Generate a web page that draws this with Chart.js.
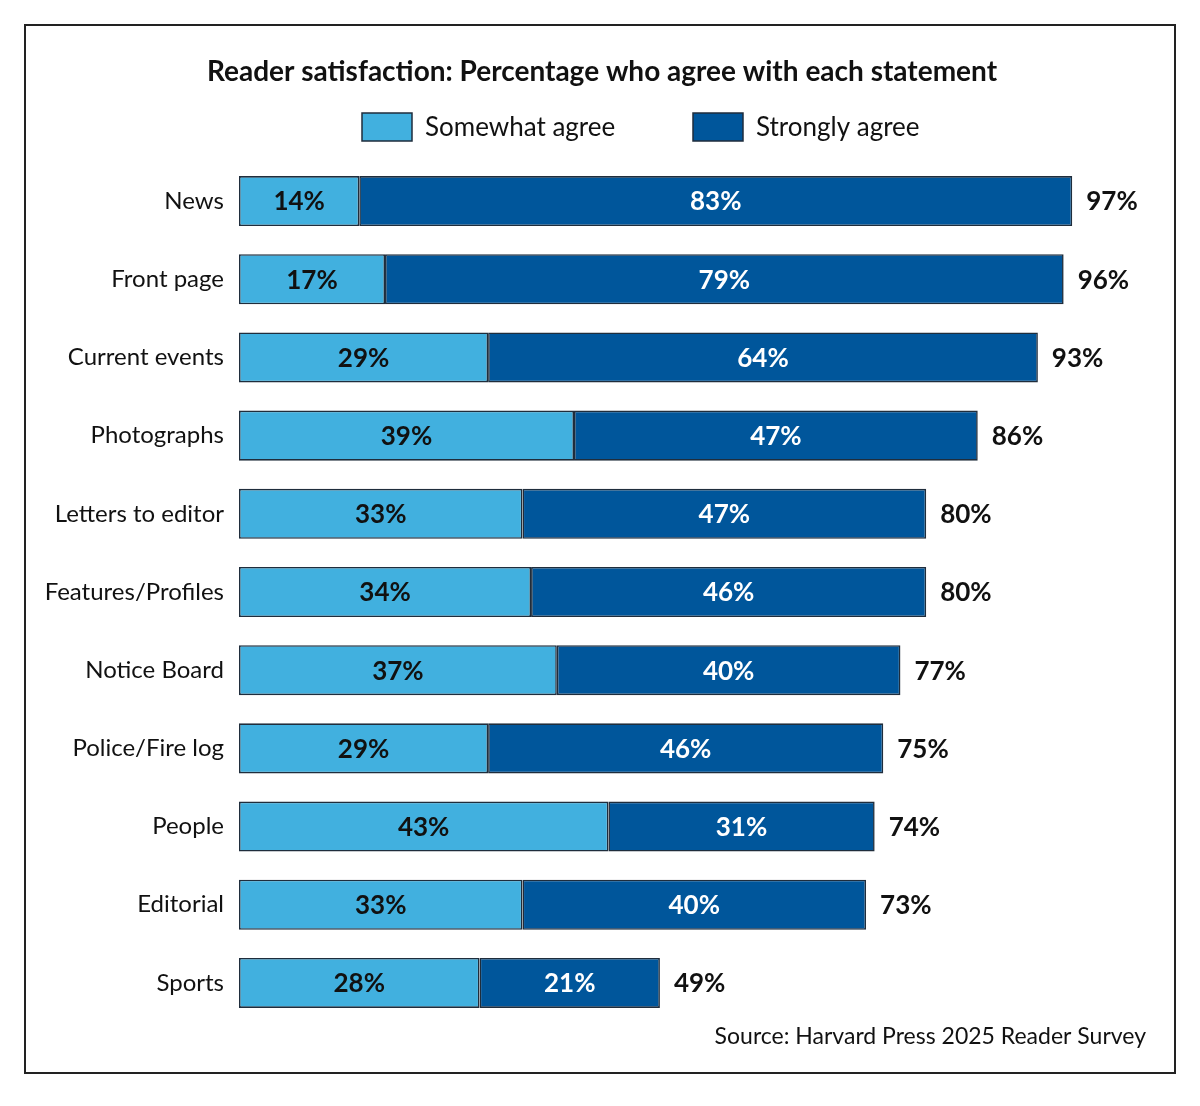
<!DOCTYPE html>
<html>
<head>
<meta charset="utf-8">
<script src="https://cdn.jsdelivr.net/npm/chart.js@4.4.1/dist/chart.umd.min.js"></script>
<style>
  html, body { margin: 0; padding: 0; background: #fff; }
  #wrap { width: 1200px; height: 1106px; }
</style>
</head>
<body>
<div id="wrap"><canvas id="myChart" width="1200" height="1106"></canvas></div>
<script>
// datos del grafico
var categorias = ['News', 'Front page', 'Current events', 'Photographs', 'Letters to editor',
    'Features/Profiles', 'Notice Board', 'Police/Fire log', 'People', 'Editorial', 'Sports'];
var algo = [14, 17, 29, 39, 33, 34, 37, 29, 43, 33, 28];
var mucho = [83, 79, 64, 47, 47, 46, 40, 46, 31, 40, 21];
var totales = [97, 96, 93, 86, 80, 80, 77, 75, 74, 73, 49];
var series = ['Somewhat agree', 'Strongly agree'];
var titulo = 'Reader satisfaction: Percentage who agree with each statement';
var fuente = 'Source: Harvard Press 2025 Reader Survey';

var FUENTE = 'Lato, "Open Sans", sans-serif';
var claro = '#41b0df';
var oscuro = '#00569b';
var borde = '#1f2d3c';

// etiquetas, titulo, leyenda y marco
var extras = {
    id: 'extras',
    afterDatasetsDraw: function(chart){
        var ctx = chart.ctx;
        ctx.save();
        ctx.textBaseline = 'middle';
        ctx.font = 'bold 26px ' + FUENTE;
        ctx.textAlign = 'center';
        chart.data.datasets.forEach(function(ds, i){
            var meta = chart.getDatasetMeta(i);
            meta.data.forEach(function(bar, j){
                ctx.fillStyle = i == 0 ? '#111' : '#fff';
                var x = (bar.x + bar.base) / 2;
                ctx.fillText(ds.data[j] + '%', x, bar.y + 1);
            });
        });
        // totales
        var meta2 = chart.getDatasetMeta(1);
        ctx.textAlign = 'left';
        ctx.fillStyle = '#111';
        meta2.data.forEach(function(bar, j){
            ctx.fillText(totales[j] + '%', bar.x + 14, bar.y + 1);
        });
        ctx.restore();
    },
    afterDraw: function(chart){
        var ctx = chart.ctx;
        ctx.save();
        // marco
        ctx.strokeStyle = '#222';
        ctx.lineWidth = 2;
        ctx.strokeRect(25, 25, 1150, 1048);
        // titulo
        ctx.fillStyle = '#111';
        ctx.textAlign = 'center';
        ctx.textBaseline = 'middle';
        ctx.font = 'bold 28px ' + FUENTE;
        ctx.fillText(titulo, 602, 72);
        // leyenda
        var xs = [362, 693];
        ctx.font = '26px ' + FUENTE;
        ctx.textAlign = 'left';
        chart.data.datasets.forEach(function(ds, i){
            ctx.fillStyle = ds.backgroundColor;
            ctx.fillRect(xs[i], 113, 50, 28);
            ctx.strokeStyle = borde;
            ctx.lineWidth = 1.5;
            ctx.strokeRect(xs[i], 113, 50, 28);
            ctx.fillStyle = '#111';
            ctx.fillText(ds.label, xs[i] + 63, 128);
        });
        // fuente
        ctx.textAlign = 'right';
        ctx.font = '23px ' + FUENTE;
        ctx.fillText(fuente, 1146, 1037);
        ctx.restore();
    }
};

var datosChart = {
    labels: categorias,
    datasets: [{
        label: series[0],
        backgroundColor: claro,
        borderColor: borde,
        borderWidth: 1.6,
        borderSkipped: false,
        data: algo
    }, {
        label: series[1],
        backgroundColor: oscuro,
        borderColor: borde,
        borderWidth: 1.6,
        borderSkipped: false,
        data: mucho
    }]
};

var charGrafico = new Chart(document.getElementById('myChart'), {
    type: 'bar',
    data: datosChart,
    plugins: [extras],
    options: {
        indexAxis: 'y',
        responsive: false,
        animation: false,
        layout: { padding: { top: 162, left: 0, right: 102, bottom: 84 } },
        datasets: { bar: { barPercentage: 0.64, categoryPercentage: 1 } },
        scales: {
            x: { stacked: true, min: 0, max: 100, display: false },
            y: {
                stacked: true,
                grid: { display: false },
                border: { display: false },
                afterFit: function(scale){ scale.width = 239; },
                ticks: {
                    color: '#111',
                    padding: 7,
                    font: { family: FUENTE, size: 24 }
                }
            }
        },
        plugins: {
            legend: { display: false },
            title: { display: false },
            tooltip: { enabled: false }
        }
    }
});
</script>
</body>
</html>
